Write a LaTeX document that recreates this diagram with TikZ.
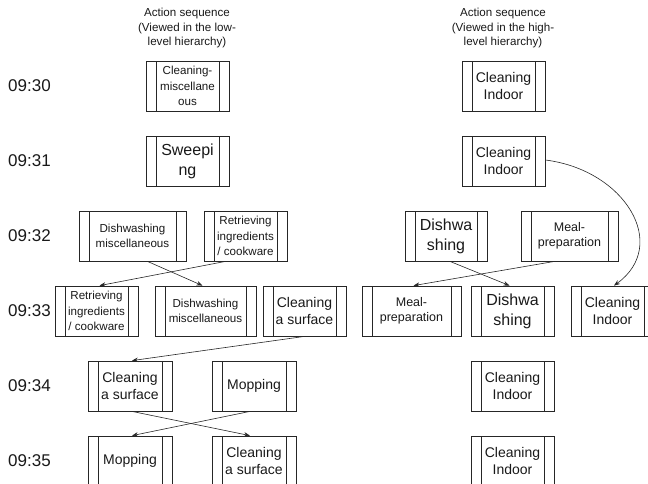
\documentclass[tikz,border=0pt]{standalone}
\usepackage{fontspec}
\setmainfont{Liberation Sans}
\usetikzlibrary{arrows.meta}
\tikzset{
  proc/.style={draw=black!85, line width=0.8pt, minimum height=50pt, inner sep=0pt, align=center, text=black!90,
    path picture={\draw[line width=0.8pt, black!85]
      ([xshift=10pt]path picture bounding box.north west) -- ([xshift=10pt]path picture bounding box.south west)
      ([xshift=-10pt]path picture bounding box.north east) -- ([xshift=-10pt]path picture bounding box.south east);}},
  fs/.style={font=\fontsize{11.6}{15.5}\selectfont},
  fm/.style={font=\fontsize{14}{16.5}\selectfont},
  fl/.style={font=\fontsize{16}{20}\selectfont},
  fp/.style={font=\fontsize{12.5}{15}\selectfont},
  tlab/.style={font=\fontsize{17}{20}\selectfont, anchor=west, inner sep=0pt, text=black!90},
  hdr/.style={font=\fontsize{11.6}{14.5}\selectfont, align=center, inner sep=0pt, text=black!90},
  arr/.style={-{Stealth[length=6pt,width=4.5pt]}, line width=0.6pt, black!85},
}
\begin{document}
\begin{tikzpicture}[x=1pt,y=-1pt]
\useasboundingbox (0,0) rectangle (648,483);
\clip (0,0) rectangle (648,483);
% headers
\node[hdr] (h1) at (187,28) {Action sequence\\(Viewed in the low-\\level hierarchy)};
\node[hdr] (h2) at (503,28) {Action sequence\\(Viewed in the high-\\level hierarchy)};
% time labels
\node[tlab] (t0) at (8,86) {09:30};
\node[tlab] (t1) at (8,161) {09:31};
\node[tlab] (t2) at (8,236) {09:32};
\node[tlab] (t3) at (8,311) {09:33};
\node[tlab] (t4) at (8,386) {09:34};
\node[tlab] (t5) at (8,461) {09:35};
% left column
\node[proc,fs,minimum width=83pt] (cm1) at (187.5,86) {Cleaning-\\miscellane\\ous};
\node[proc,fl,minimum width=83pt] (sw1) at (187.5,161) {Sweepi\\ng};
\node[proc,fs,minimum width=107pt] (dm1) at (132.5,236) {Dishwashing\\miscellaneous};
\node[proc,fs,minimum width=83pt] (ri1) at (245.5,236) {Retrieving\\ingredients\\/ cookware};
\node[proc,fs,minimum width=83pt] (ri2) at (96.5,311) {Retrieving\\ingredients\\/ cookware};
\node[proc,fs,minimum width=101pt] (dm2) at (205.5,311) {Dishwashing\\miscellaneous};
\node[proc,fm,minimum width=83pt] (cs1) at (304.5,311) {Cleaning\\a surface};
\node[proc,fm,minimum width=84pt] (cs2) at (130,386) {Cleaning\\a surface};
\node[proc,fm,minimum width=84pt] (mo1) at (254,386) {Mopping};
\node[proc,fm,minimum width=84pt] (mo2) at (130,461) {Mopping};
\node[proc,fm,minimum width=84pt] (cs3) at (254,461) {Cleaning\\a surface};
% right column
\node[proc,fm,minimum width=83pt] (ci1) at (503.5,86) {Cleaning\\Indoor};
\node[proc,fm,minimum width=83pt] (ci2) at (503.5,161) {Cleaning\\Indoor};
\node[proc,fl,minimum width=82pt] (dw1) at (446,236) {Dishwa\\shing};
\node[proc,fp,minimum width=97pt] (mp1) at (569.5,236) {Meal-\\preparation};
\node[proc,fp,minimum width=99pt] (mp2) at (411.5,311) {Meal-\\preparation};
\node[proc,fl,minimum width=83pt] (dw2) at (512.5,311) {Dishwa\\shing};
\node[proc,fm,minimum width=83pt] (ci3) at (612.5,311) {Cleaning\\Indoor};
\node[proc,fm,minimum width=83pt] (ci4) at (512.5,386) {Cleaning\\Indoor};
\node[proc,fm,minimum width=83pt] (ci5) at (512.5,461) {Cleaning\\Indoor};
% connectors
\draw[arr] ([xshift=15pt]dm1.south) -- ([xshift=-3pt]dm2.north);
\draw[arr] ([xshift=-20pt]ri1.south) -- ([xshift=3pt]ri2.north);
\draw[arr] (cs1.south) -- ([xshift=2pt]cs2.north);
\draw[arr] ([xshift=2pt]cs2.south) -- ([xshift=-4pt]cs3.north);
\draw[arr] ([xshift=-4pt]mo1.south) -- ([xshift=2pt]mo2.north);
\draw[arr] ([xshift=4pt]dw1.south) -- ([xshift=-3pt]dw2.north);
\draw[arr] ([xshift=-15pt]mp1.south) -- ([xshift=2pt]mp2.north);
\draw[arr] ([yshift=1pt]ci2.east) .. controls (625,170) and (670,245) .. ([xshift=1.5pt]ci3.north);
\end{tikzpicture}
\end{document}
